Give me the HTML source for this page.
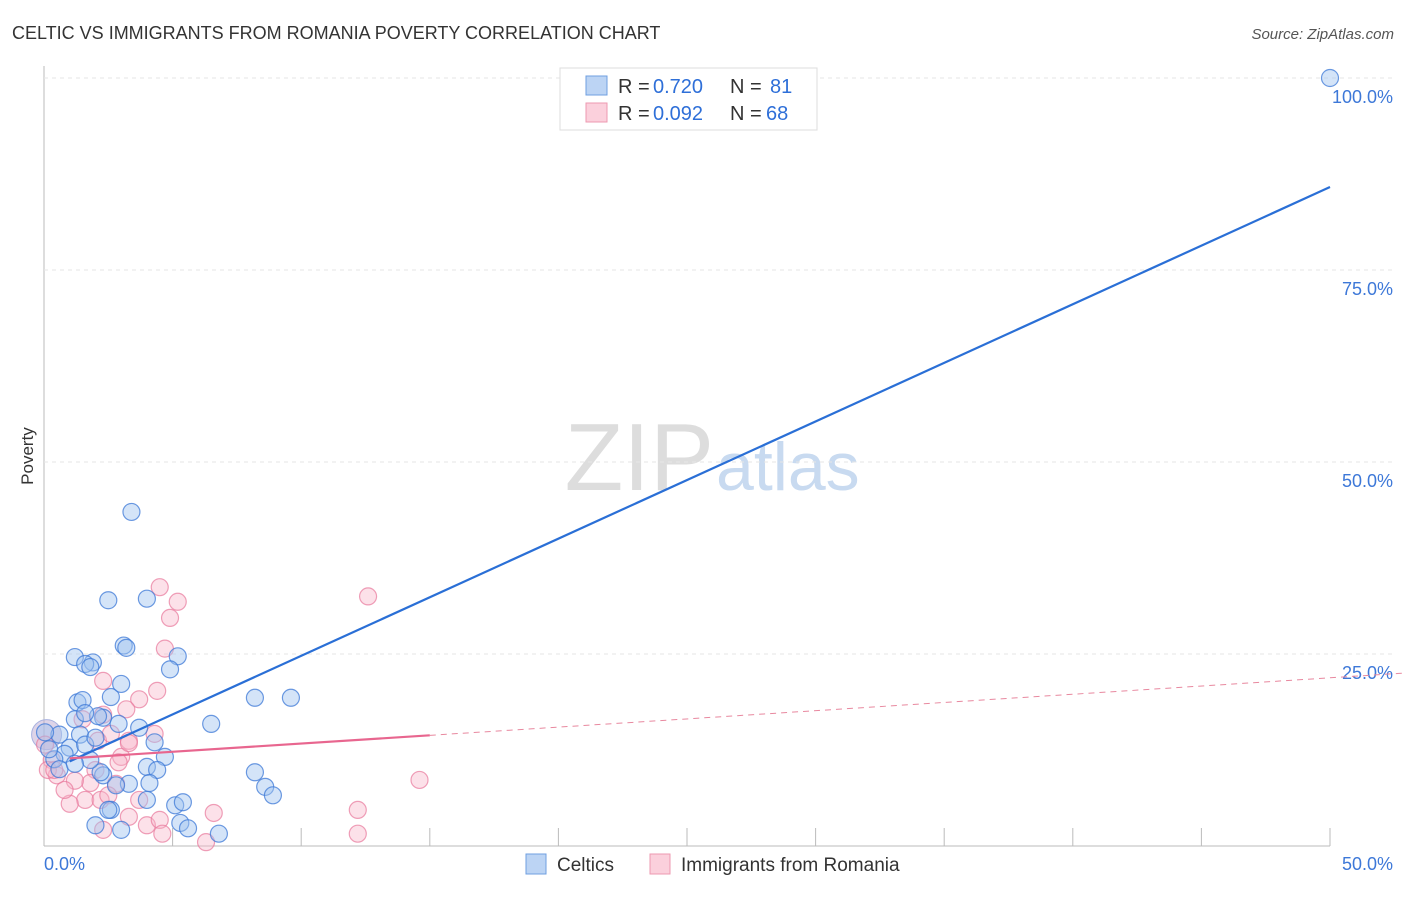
<!DOCTYPE html>
<html><head><meta charset="utf-8"><style>
body{margin:0;background:#fff;font-family:"Liberation Sans",sans-serif;}
svg text{font-family:"Liberation Sans",sans-serif;}
</style></head><body>
<svg id="chart" width="1406" height="892">
<text x="12" y="39" font-size="18" fill="#333">CELTIC VS IMMIGRANTS FROM ROMANIA POVERTY CORRELATION CHART</text>
<text x="1394" y="39" font-size="15" fill="#555" font-style="italic" text-anchor="end">Source: ZipAtlas.com</text>
<text x="33" y="456" font-size="17" fill="#333" transform="rotate(-90 33 456)" text-anchor="middle">Poverty</text>
<text x="714" y="490" font-size="96" fill="#ddd" font-family="Liberation Serif" text-anchor="end">ZIP</text>
<text x="716" y="490" font-size="68" fill="#c8daf0">atlas</text>
<g id="grid"></g><g id="pts"></g><g id="lines"></g>
<g>
<rect x="560" y="68" width="257" height="62" fill="#fff" stroke="#ddd"/>
<rect x="586" y="76" width="21" height="19" fill="#bcd4f4" stroke="#6f9fe0"/>
<rect x="586" y="103" width="21" height="19" fill="#fbd0dc" stroke="#ee99b0"/>
<text x="618" y="93" font-size="20" fill="#333">R =</text>
<text x="653" y="93" font-size="20" fill="#2e6fd8">0.720</text>
<text x="730" y="93" font-size="20" fill="#333">N =</text>
<text x="770" y="93" font-size="20" fill="#2e6fd8">81</text>
<text x="618" y="120" font-size="20" fill="#333">R =</text>
<text x="653" y="120" font-size="20" fill="#2e6fd8">0.092</text>
<text x="730" y="120" font-size="20" fill="#333">N =</text>
<text x="766" y="120" font-size="20" fill="#2e6fd8">68</text>
</g>
<g>
<rect x="526" y="854" width="20" height="20" fill="#bcd4f4" stroke="#6f9fe0"/>
<text x="557" y="871" font-size="19" fill="#333">Celtics</text>
<rect x="650" y="854" width="20" height="20" fill="#fbd0dc" stroke="#ee99b0"/>
<text x="681" y="871" font-size="19" fill="#333">Immigrants from Romania</text>
</g>
</svg>
<script>
const xTicks=[0,5,10,15,20,25,30,35,40,45,50];
const yTicks=[25,50,75,100];
const yTickLabels=["25.0%","50.0%","75.0%","100.0%"];
const celticsX=[3.4,2.5,4.0,3.1,3.2,1.2,1.9,1.6,1.8,5.2,4.9,1.3,1.5,2.6,3.0,8.2,9.6,6.5,1.2,2.3,2.9,3.7,2.1,1.6,0.6,1.4,4.3,4.7,4.0,4.4,4.1,8.2,8.6,8.9,4.0,5.1,5.4,5.3,5.6,2.0,3.0,6.8,2.6,2.3,3.3,2.8,2.5,2.2,1.8,1.0,0.8,0.4,0.2,0.04,1.6,2.0,0.6,1.2,50];
const celticsY=[43.5,32,32.2,26.1,25.8,24.6,23.9,23.7,23.3,24.7,23.0,18.7,19.0,19.4,21.1,19.3,19.3,15.9,16.5,16.7,15.9,15.4,16.9,17.3,14.5,14.5,13.5,11.6,10.3,9.9,8.2,9.6,7.7,6.6,6.0,5.3,5.7,3.0,2.3,2.7,2.1,1.6,4.7,9.2,8.1,7.9,4.7,9.6,11.2,12.8,12.0,11.3,12.6,14.8,13.2,14.1,10.0,10.7,100];
const romX=[4.5,5.2,4.9,12.6,4.7,2.3,4.4,3.7,3.2,2.3,1.5,2.1,2.6,3.3,4.3,3.0,3.3,2.9,2.0,2.8,1.8,1.2,1.6,1.0,2.2,3.7,2.5,3.3,4.0,4.5,4.6,6.6,6.3,12.2,12.2,14.6,0.3,0.5,0.15,0.8,2.3,0.04,0.4];
const romY=[33.7,31.8,29.7,32.5,25.7,21.5,20.2,19.1,17.8,17.1,16.5,13.7,14.6,13.7,14.6,11.6,13.4,10.9,9.9,8.1,8.2,8.5,6.0,5.5,6.0,6.0,6.6,3.8,2.7,3.4,1.6,4.3,0.5,4.7,1.6,8.6,11.2,9.2,9.9,7.3,2.1,13.2,9.9];
const celticsFit=[9.5,85.8];
const romFit=[11.2,21.9];
const X=v=>44+v*25.72, Y=v=>846-v*7.68;
const NS="http://www.w3.org/2000/svg";
function mk(t,a,p){const e=document.createElementNS(NS,t);for(const k in a)e.setAttribute(k,a[k]);p.appendChild(e);return e;}
const grid=document.getElementById('grid');
const ax=mk('line',{x1:44,y1:66,x2:44,y2:846,stroke:'#bbb'},grid);


const bx=mk('line',{x1:44,y1:846,x2:1330,y2:846,stroke:'#bbb'},grid);


yTicks.forEach((v,i)=>{
 const g=mk('line',{x1:44,y1:Y(v),x2:1394,y2:Y(v),stroke:'#e6e6e6','stroke-dasharray':'4,4'},grid);
 
 
 const t=mk('text',{x:1393,y:Y(v)+25,'font-size':18,fill:'#3d78d8','text-anchor':'end'},grid);t.textContent=yTickLabels[i];
 
 
});
xTicks.forEach(v=>{
 const l=mk('line',{x1:X(v),y1:828,x2:X(v),y2:846,stroke:'#bbb'},grid);
 
 
});
[[0,'0.0%','start'],[50,'50.0%','end']].forEach(([v,s,a])=>{
 const t=mk('text',{x:v==0?X(v):X(v)+63,y:870,'font-size':18,fill:'#3d78d8','text-anchor':a},grid);t.textContent=s;
 
 
});
const pts=document.getElementById('pts');
const big=mk('circle',{cx:X(0.1),cy:Y(14.5),r:15,fill:'rgba(190,170,210,0.5)',stroke:'#a9b2e0'},pts);


romX.forEach((x,i)=>{
 const c=mk('circle',{cx:X(x),cy:Y(romY[i]),r:8.5,fill:'rgba(248,180,200,0.4)',stroke:'rgba(232,120,155,0.7)','stroke-width':1.2},pts);
 
 
});
celticsX.forEach((x,i)=>{
 const c=mk('circle',{cx:X(x),cy:Y(celticsY[i]),r:8.5,fill:'rgba(160,195,240,0.45)',stroke:'rgba(60,120,215,0.75)','stroke-width':1.2},pts);
 
 
});
const lines=document.getElementById('lines');
const cy=v=>celticsFit[0]+(celticsFit[1]-celticsFit[0])*v/50;
const ry=v=>romFit[0]+(romFit[1]-romFit[0])*v/50;
const bl=mk('line',{x1:X(1),y1:Y(cy(1)),x2:X(50),y2:Y(cy(50)),stroke:'#2a6fd6','stroke-width':2.2},lines);


const pl=mk('line',{x1:X(1),y1:Y(ry(1)),x2:X(15),y2:Y(ry(15)),stroke:'#e8668f','stroke-width':2.2},lines);


const pd=mk('line',{x1:X(15),y1:Y(ry(15)),x2:1406,y2:Y(ry((1406-44)/25.72)),stroke:'#e8889f','stroke-width':1,'stroke-dasharray':'6,5'},lines);


</script>
</body></html>
